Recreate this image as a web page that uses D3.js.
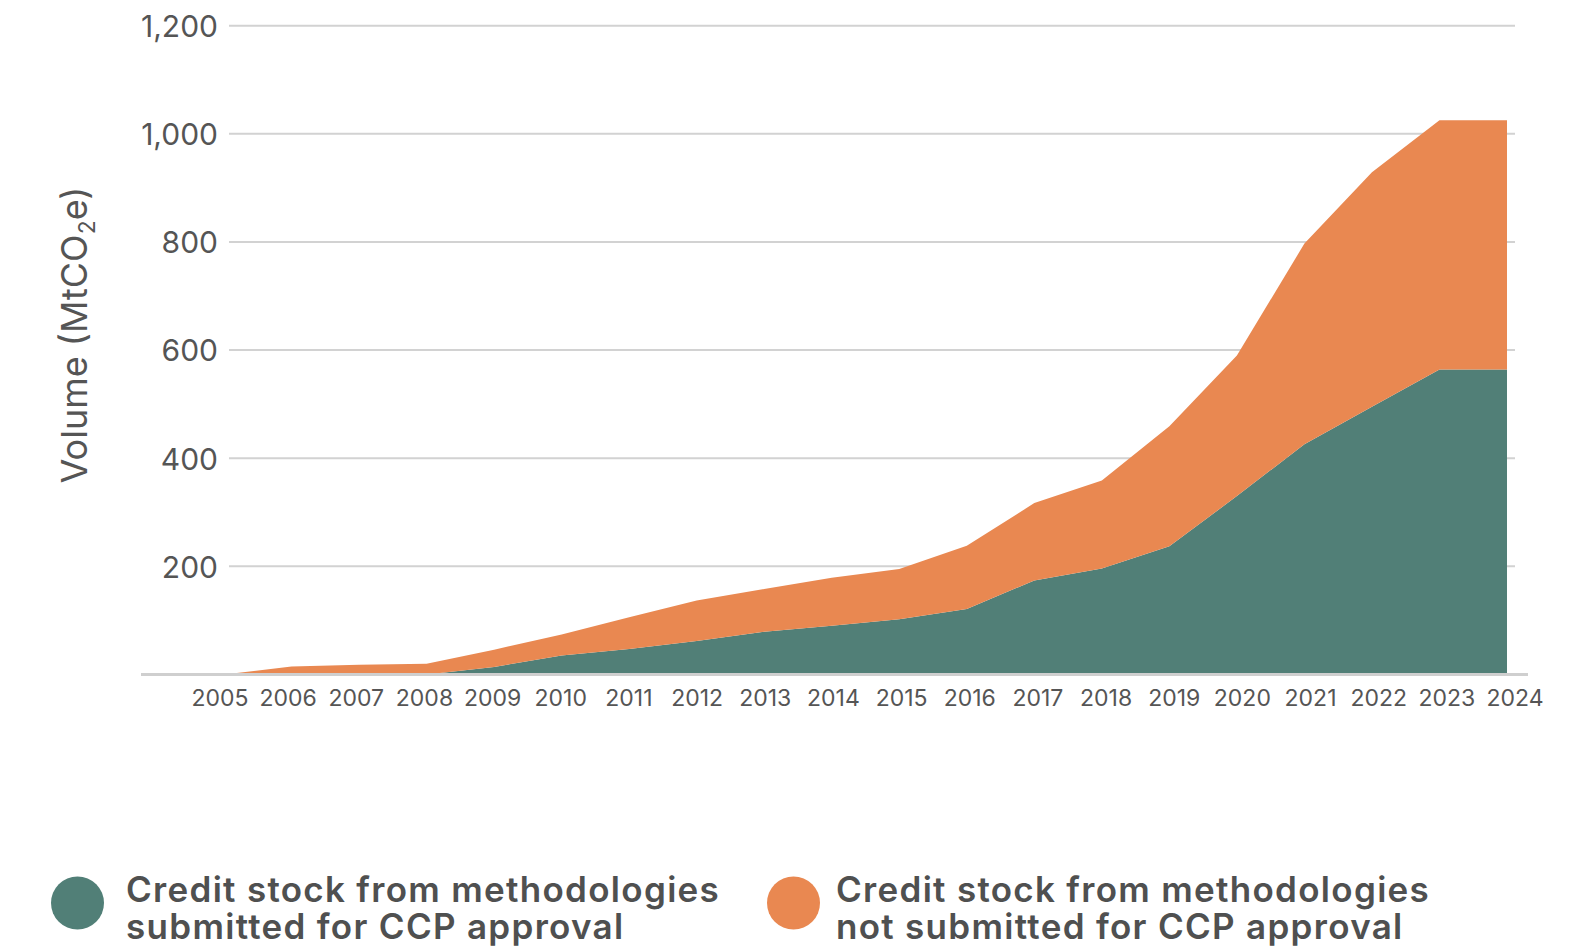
<!DOCTYPE html>
<html>
<head>
<meta charset="utf-8">
<script src="https://cdn.jsdelivr.net/npm/d3@7/dist/d3.min.js"></script>
<style>
  html, body { margin: 0; padding: 0; background: #ffffff; }
  svg { display: block; font-family: Inter, "Noto Sans", sans-serif; }
</style>
</head>
<body>
<svg id="chart" width="1593" height="951"></svg>
<script>
// Years on the x axis
const years = [2005, 2006, 2007, 2008, 2009, 2010, 2011, 2012, 2013, 2014,
               2015, 2016, 2017, 2018, 2019, 2020, 2021, 2022, 2023, 2024];

// Credit stock (MtCO2e) from methodologies submitted for CCP approval
const submitted = [0, 0, 0, 0, 14, 35, 47, 62, 79, 90,
                   102, 121, 174, 196, 237, 330, 426, 495, 564, 564];

// Credit stock (MtCO2e) from methodologies not submitted for CCP approval
const notSubmitted = [0, 15, 18, 20, 32, 39, 59, 75, 79, 89,
                      93, 117, 143, 163, 222, 260, 371, 434, 461, 461];

const yTicks = [200, 400, 600, 800, 1000, 1200];

const seriesKeys = ["submitted", "notSubmitted"];
const seriesLabels = [
  ["Credit stock from methodologies", "submitted for CCP approval"],
  ["Credit stock from methodologies", "not submitted for CCP approval"]
];
const colors = { submitted: "#517f77", notSubmitted: "#e98851" };

const rows = years.map((yr, i) => ({ year: yr, submitted: submitted[i], notSubmitted: notSubmitted[i] }));

const svg = d3.select("#chart");

const x = d3.scaleLinear().domain([2005, 2024]).range([224, 1507]);
const xLabel = d3.scalePoint().domain(years).range([219.5, 1514.5]);
const y = d3.scaleLinear().domain([0, 1200]).range([674.5, 25.7]);

// Horizontal gridlines
svg.append("g")
  .selectAll("line")
  .data(yTicks)
  .join("line")
  .attr("x1", 229).attr("x2", 1515)
  .attr("y1", d => y(d)).attr("y2", d => y(d))
  .attr("stroke", "#d2d2d2")
  .attr("stroke-width", 2);

// Stacked areas
const stacked = d3.stack().keys(seriesKeys)(rows);
const area = d3.area()
  .x(d => x(d.data.year))
  .y0(d => y(d[0]))
  .y1(d => y(d[1]))
  .curve(d3.curveLinear);

svg.append("g")
  .selectAll("path")
  .data(stacked)
  .join("path")
  .attr("fill", d => colors[d.key])
  .attr("d", area);

// Baseline
svg.append("line")
  .attr("x1", 141).attr("x2", 1528)
  .attr("y1", y(0)).attr("y2", y(0))
  .attr("stroke", "#cfcfcf")
  .attr("stroke-width", 3);

// Y axis labels
const yAxis = d3.axisLeft(y).tickValues(yTicks).tickSize(0).tickPadding(0)
  .tickFormat(d3.format(","));
const gy = svg.append("g").attr("transform", "translate(218,0)").call(yAxis);
gy.select(".domain").remove();
gy.selectAll("text")
  .attr("font-family", "Inter, 'Noto Sans', sans-serif")
  .attr("font-size", 30)
  .attr("fill", "#555555")
  .attr("dy", "0.36em");

// X axis labels
const xAxis = d3.axisBottom(xLabel).tickSize(0).tickPadding(0).tickFormat(d3.format("d"));
const gx = svg.append("g").attr("transform", "translate(0,706)").call(xAxis);
gx.select(".domain").remove();
gx.selectAll("text")
  .attr("font-family", "Inter, 'Noto Sans', sans-serif")
  .attr("font-size", 23)
  .attr("fill", "#555555")
  .attr("y", 0)
  .attr("dy", 0);

// Y axis title with subscript
const title = svg.append("text")
  .attr("transform", "translate(87,335) rotate(-90)")
  .attr("text-anchor", "middle")
  .attr("font-size", 36)
  .attr("fill", "#555555");
title.append("tspan").text("Volume (MtCO");
title.append("tspan").attr("font-size", 23).attr("dy", 8).text("2");
title.append("tspan").attr("dy", -8).text("e)");

// Legend: one swatch and two text lines per series
const legendPos = [{ cx: 77.5, tx: 126 }, { cx: 793.5, tx: 836 }];
const legend = svg.append("g")
  .selectAll("g")
  .data(seriesKeys)
  .join("g");

legend.append("circle")
  .attr("cx", (d, i) => legendPos[i].cx)
  .attr("cy", 903)
  .attr("r", 26.5)
  .attr("fill", d => colors[d]);

legend.each(function (d, i) {
  d3.select(this)
    .selectAll("text.legend-line")
    .data(seriesLabels[i])
    .join("text")
    .attr("class", "legend-line")
    .attr("x", legendPos[i].tx)
    .attr("y", (t, j) => 902 + j * 37)
    .attr("font-size", 35)
    .attr("font-weight", 600)
    .attr("letter-spacing", 1.3)
    .attr("fill", "#4f5050")
    .text(t => t);
});
</script>
</body>
</html>
